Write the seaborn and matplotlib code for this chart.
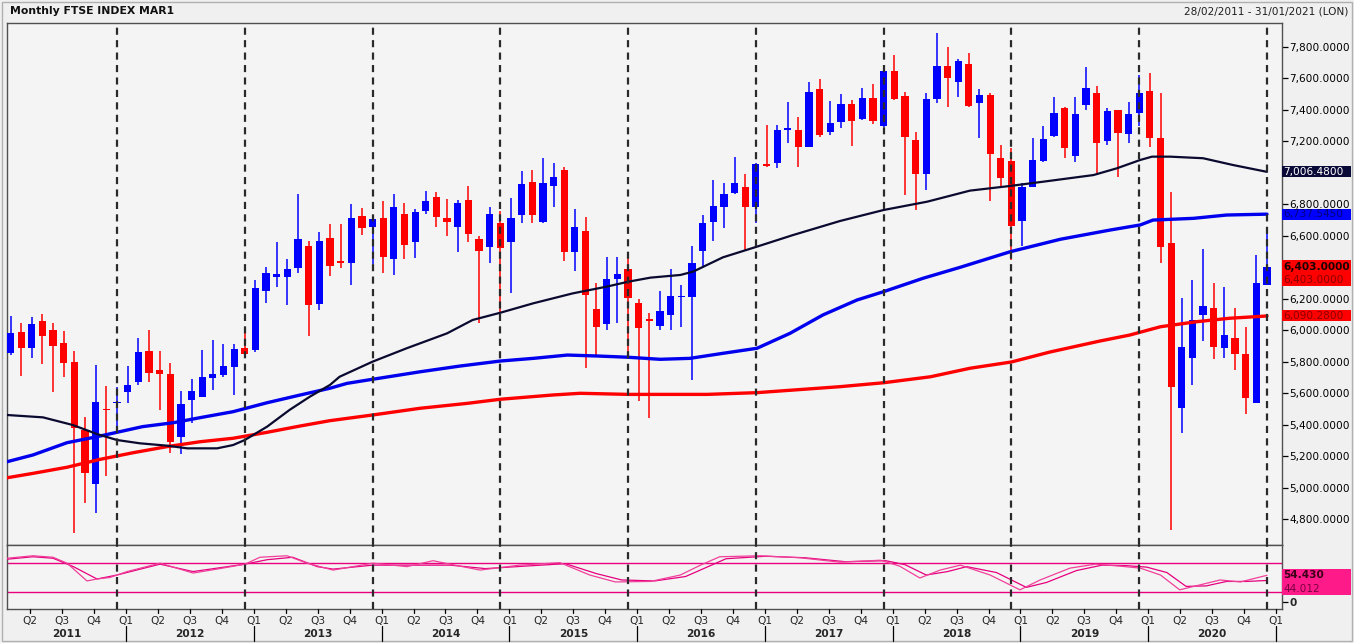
import numpy as np
import pandas as pd
import matplotlib
matplotlib.use("Agg")
import matplotlib.pyplot as plt
import matplotlib.transforms as mtransforms
from matplotlib.patches import Rectangle
import seaborn as sns

# ---------------- data (monthly bars, Mar 2011 .. Jan 2021) ----------------
opens = [5853, 5990, 5889, 6058, 6000, 5921, 5795, 5365, 5020, 5502,
         5537, 5608, 5670, 5866, 5747, 5720, 5323, 5556, 5577, 5698,
         5716, 5768, 5885, 5872, 6251, 6336, 6340, 6394, 6535, 6167,
         6584, 6440, 6429, 6726, 6654, 6711, 6451, 6739, 6560, 6760,
         6844, 6711, 6654, 6827, 6580, 6527, 6680, 6563, 6732, 6940,
         6690, 6916, 7018, 6499, 6631, 6133, 6037, 6323, 6387, 6175,
         6072, 6025, 6095, 6208, 6214, 6505, 6690, 6785, 6870, 6908,
         6781, 7054, 7065, 7272, 7272, 7166, 7531, 7262, 7321, 7436,
         7342, 7474, 7298, 7648, 7489, 7209, 6993, 7470, 7679, 7576,
         7692, 7442, 7495, 7097, 7075, 6696, 6912, 7077, 7234, 7410,
         7109, 7431, 7510, 7205, 7400, 7247, 7378, 7520, 7220, 6556,
         5504, 5825, 6095, 6139, 5885, 5952, 5849, 5535, 6288]
highs = [6090, 6044, 6086, 6103, 6044, 5997, 5870, 5448, 5776, 5643,
         5641, 5772, 5949, 6004, 5868, 5790, 5615, 5688, 5874, 5938,
         5912, 5912, 5984, 6319, 6400, 6562, 6453, 6866, 6567, 6626,
         6673, 6673, 6800, 6775, 6720, 6821, 6866, 6810, 6768, 6885,
         6876, 6832, 6827, 6916, 6600, 6785, 6757, 6838, 7014, 7018,
         7093, 7065, 7035, 6768, 6721, 6298, 6467, 6467, 6457, 6197,
         6110, 6252, 6392, 6287, 6535, 6733, 6955, 6934, 7103, 6993,
         7060, 7304, 7304, 7452, 7353, 7580, 7597, 7457, 7501, 7463,
         7537, 7565, 7650, 7750, 7516, 7262, 7506, 7887, 7802, 7722,
         7760, 7531, 7510, 7177, 7156, 6934, 7224, 7298, 7480, 7421,
         7484, 7675, 7552, 7410, 7400, 7448, 7625, 7633, 7506, 6880,
         6204, 6319, 6514, 6302, 6277, 6140, 6022, 6476, 6632]
lows = [5840, 5710, 5821, 5782, 5609, 5700, 4710, 4904, 4840, 5075,
        5345, 5539, 5652, 5672, 5493, 5219, 5213, 5413, 5574, 5620,
        5701, 5588, 5834, 5863, 6175, 6276, 6160, 6364, 5961, 6128,
        6343, 6397, 6287, 6605, 6420, 6364, 6350, 6451, 6457, 6739,
        6658, 6601, 6495, 6563, 6048, 6425, 6118, 6238, 6679, 6679,
        6683, 6781, 6441, 6378, 5758, 5842, 6000, 6044, 5864, 5550,
        5440, 6000, 6000, 6019, 5684, 6411, 6569, 6648, 6866, 6505,
        6681, 7040, 7029, 7192, 7035, 7162, 7230, 7241, 7283, 7171,
        7336, 7311, 7290, 7463, 6860, 6764, 6891, 7446, 7420, 7480,
        7417, 7224, 6823, 6912, 6446, 6535, 6908, 7071, 7226, 7097,
        7071, 7400, 6993, 7177, 6976, 7188, 7300, 7166, 6429, 4730,
        5345, 5652, 5930, 5815, 5821, 5747, 5465, 5535, 6288]
closes = [5980, 5889, 6040, 5965, 5902, 5790, 5376, 5094, 5545, 5492,
          5545, 5652, 5861, 5730, 5720, 5292, 5531, 5613, 5704, 5722,
          5773, 5881, 5849, 6266, 6362, 6355, 6389, 6578, 6160, 6567,
          6408, 6429, 6711, 6652, 6707, 6463, 6781, 6542, 6749, 6823,
          6718, 6686, 6810, 6610, 6506, 6739, 6524, 6711, 6929, 6732,
          6934, 6972, 6499, 6658, 6224, 6022, 6323, 6355, 6203, 6012,
          6061, 6121, 6216, 6220, 6425, 6680, 6790, 6866, 6934, 6785,
          7056, 7044, 7272, 7283, 7166, 7512, 7241, 7315, 7436, 7332,
          7474, 7332, 7648, 7470, 7230, 6993, 7470, 7679, 7605, 7711,
          7425, 7495, 7118, 6970, 6664, 6912, 7082, 7213, 7379, 7156,
          7372, 7537, 7188, 7393, 7251, 7374, 7510, 7220, 6531, 5637,
          5896, 6065, 6154, 5891, 5970, 5847, 5567, 6302, 6403]
first_bar = "2011-03"

# moving averages (bar position, value)
ma_black_pos = [-0.33, 3.05, 5.87, 8.12, 10.0, 12.16, 14.7, 16.6, 19.4, 20.9, 22.0, 24.1,
                26.2, 28.1, 30.0, 30.9, 34.0, 37.2, 41.0, 43.4, 46.0, 49.1, 52.8, 56.0,
                58.0, 60.1, 62.9, 64.1, 66.9, 70.1, 73.5, 77.9, 82.0, 86.1, 90.1, 93.9,
                97.0, 101.7, 103.9, 106.1, 107.2, 108.9, 112.0, 114.8, 118.0]
ma_black_val = [5461, 5446, 5397, 5340, 5302, 5281, 5266, 5249, 5249, 5270, 5302, 5387,
                5493, 5577, 5652, 5704, 5800, 5885, 5980, 6065, 6111, 6171, 6234, 6277,
                6308, 6334, 6351, 6372, 6463, 6531, 6605, 6694, 6764, 6817, 6887, 6917,
                6944, 6986, 7029, 7082, 7103, 7103, 7093, 7050, 7006.48]
ma_blue_pos = [-0.33, 2.11, 5.31, 8.12, 10.0, 12.4, 15.3, 17.8, 20.9, 24.1, 27.2, 30.0,
               31.6, 34.0, 38.5, 42.2, 46.0, 49.1, 52.3, 55.1, 58.0, 61.0, 63.8, 66.9,
               70.1, 73.2, 76.3, 79.5, 82.0, 85.7, 89.2, 93.9, 98.6, 103.3, 106.1, 107.3,
               111.1, 114.2, 118.0]
ma_blue_val = [5164, 5207, 5285, 5323, 5351, 5387, 5412, 5444, 5482, 5539, 5588, 5631,
               5662, 5688, 5736, 5772, 5804, 5821, 5842, 5836, 5828, 5815, 5821, 5853,
               5885, 5980, 6097, 6192, 6245, 6330, 6400, 6499, 6578, 6637, 6669, 6700,
               6711, 6732, 6737.545]
ma_red_pos = [-0.33, 2.11, 5.31, 8.41, 11.5, 14.7, 17.8, 20.9, 24.1, 27.2, 30.0, 34.0,
              38.5, 42.9, 46.0, 50.9, 53.5, 58.0, 65.4, 70.1, 77.9, 82.0, 86.4, 90.1,
              94.0, 97.6, 102.3, 105.1, 108.0, 111.4, 114.5, 118.0]
ma_red_val = [5062, 5090, 5129, 5179, 5221, 5260, 5291, 5313, 5351, 5391, 5425, 5461,
              5504, 5535, 5561, 5588, 5599, 5592, 5592, 5603, 5641, 5666, 5704, 5758,
              5798, 5861, 5931, 5969, 6022, 6054, 6076, 6090.28]

# oscillator (two lines)
osc_fast_pos = [-0.33, 2.11, 3.99, 5.31, 7.18, 8.12, 9.34, 10.94, 14.04, 17.14, 19.39,
                22.02, 23.43, 25.97, 27.85, 30.29, 34.04, 37.23, 39.68, 41.27, 44.1, 47.8,
                51.6, 54.4, 56.8, 60.1, 62.9, 64.8, 66.6, 70.4, 74.1, 77.9, 81.7, 83.5,
                85.4, 87.3, 89.2, 92.0, 94.8, 96.7, 99.5, 101.9, 104.2, 106.1, 108.0,
                109.8, 111.7, 113.6, 115.5, 118.0]
osc_fast_val = [89, 94, 91, 79, 43, 47, 50, 62, 79, 59, 67, 77, 91, 94, 79, 65, 79, 72, 84,
                77, 65, 75, 80, 55, 41, 42, 55, 75, 92, 94, 90, 81, 85, 73, 49, 65, 75, 55,
                25, 45, 69, 77, 73, 69, 55, 25, 35, 45, 41, 54.43]
osc_slow_pos = [-0.33, 2.11, 3.99, 5.9, 8.12, 10.0, 14.04, 17.14, 22.02, 24.1, 26.5, 28.8,
                30.3, 34.0, 41.3, 44.6, 48.3, 52.1, 55.0, 57.4, 60.5, 63.4, 65.3, 67.2,
                70.9, 74.6, 78.4, 82.2, 84.0, 86.0, 88.0, 89.8, 92.6, 95.4, 97.3, 100.1,
                102.5, 104.8, 106.7, 108.6, 110.4, 112.3, 114.2, 116.1, 118.0]
osc_slow_val = [87, 92, 89, 72, 47, 55, 77, 62, 77, 86, 91, 72, 67, 75, 75, 68, 73, 78, 58,
                45, 43, 52, 70, 88, 93, 90, 82, 84, 76, 55, 62, 72, 60, 30, 40, 64, 75, 74,
                71, 60, 32, 33, 42, 42, 44.012]
osc_levels = [80, 20]

price_ticks = list(range(4800, 7801, 200))
quarter_names = ["Q1", "Q2", "Q3", "Q4"]
title_left = "Monthly FTSE INDEX MAR1"
title_right = "28/02/2011 - 31/01/2021 (LON)"

# ---------------- figure ----------------
sns.set_theme(style="white")
plt.rcParams["font.family"] = ["DejaVu Sans"]

W, H = 1354, 643
fig = plt.figure(figsize=(W / 100, H / 100), dpi=100)
fig.patch.set_facecolor("#f0f0f0")


def rect(x0, y0, x1, y1):
    return [x0 / W, 1 - y1 / H, (x1 - x0) / W, (y1 - y0) / H]


ax = fig.add_axes(rect(7, 22.5, 1282, 545))
axi = fig.add_axes(rect(7, 545, 1282, 609))

n = len(opens)
dates = pd.period_range(first_bar, periods=n, freq="M")
df = pd.DataFrame({"pos": np.arange(n), "open": opens, "high": highs,
                   "low": lows, "close": closes, "month": dates.month, "year": dates.year})
df["up"] = df["close"] >= df["open"]
df["color"] = np.where(df["up"], "#0000ff", "#ff0000")

XL = (-0.33, 119.41)
for a in (ax, axi):
    a.set_facecolor("#f4f4f4")
    a.set_xlim(*XL)
    for s in a.spines.values():
        s.set_color("#505050")
        s.set_linewidth(1.0)

ax.set_ylim(4634.7, 7955.7)
axi.set_ylim(-13.8, 115.8)

# candles
ax.vlines(df["pos"], df["low"], df["high"], colors=df["color"], linewidth=1.1, zorder=2)
body_lo = np.minimum(df["open"], df["close"])
body_h = np.maximum(np.abs(df["close"] - df["open"]), 9)
ax.bar(df["pos"], body_h, bottom=body_lo, width=0.68, color=df["color"],
       linewidth=0, zorder=3)

# moving averages
sns.lineplot(x=ma_red_pos, y=ma_red_val, ax=ax, color="#ff0000", linewidth=2.4,
             sort=False, estimator=None, zorder=4)
sns.lineplot(x=ma_blue_pos, y=ma_blue_val, ax=ax, color="#0000ee", linewidth=2.4,
             sort=False, estimator=None, zorder=4)
sns.lineplot(x=ma_black_pos, y=ma_black_val, ax=ax, color="#0a0a30", linewidth=1.6,
             sort=False, estimator=None, zorder=4)

# oscillator
for lv in osc_levels:
    axi.axhline(lv, color="#e8007e", linewidth=1.0, zorder=2)
sns.lineplot(x=osc_slow_pos, y=osc_slow_val, ax=axi, color="#e6007e", linewidth=0.9,
             sort=False, estimator=None, zorder=3)
sns.lineplot(x=osc_fast_pos, y=osc_fast_val, ax=axi, color="#f0409a", linewidth=0.9,
             sort=False, estimator=None, zorder=3)

# January separators
jan_pos = df.loc[df["month"] == 1, "pos"].tolist()
for a in (ax, axi):
    for p in jan_pos:
        a.axvline(p, color="#2a2a2a", linewidth=1.6, dashes=(3.2, 2.4), zorder=5)


def px_per_data(a):
    h = a.get_position().height * H
    lo, hi = a.get_ylim()
    return (hi - lo) / h


# value tags on the right axis: (axes, value, face, lines, up_px, down_px)
tags = [
    (ax, ma_black_val[-1], "#0a0a38", [(f"{ma_black_val[-1]:,.4f}", "#ffffff", "normal")], 5.5, 5.5),
    (ax, ma_blue_val[-1], "#0000ff", [(f"{ma_blue_val[-1]:,.4f}", "#00007a", "normal")], 5.5, 5.5),
    (ax, closes[-1], "#ff0000", [(f"{closes[-1]:,.4f}", "#1a0000", "bold"),
                                 (f"{closes[-1]:,.4f}", "#8a0000", "normal")], 6.5, 19),
    (ax, ma_red_val[-1], "#ff0000", [(f"{ma_red_val[-1]:,.4f}", "#8a0000", "normal")], 5.5, 5.5),
    (axi, osc_fast_val[-1], "#ff1a8a", [(f"{osc_fast_val[-1]:.3f}", "#3a0018", "bold"),
                                        (f"{osc_slow_val[-1]:.3f}", "#7a0040", "normal")], 6, 19.5),
]

# axes ticks (labels hidden where a value tag sits on top of them)
d_main = px_per_data(ax)
covered = []
for a, v, face, lines, up, dn in tags:
    if a is ax:
        covered.append((v - (dn + 3.5) * d_main, v + (up + 3.5) * d_main))
for a in (ax, axi):
    a.set_xticks([])
    a.set_xlabel("")
    a.set_ylabel("")
    a.yaxis.tick_right()
ax.set_yticks(price_ticks)
ax.set_yticklabels([("" if any(lo < v < hi for lo, hi in covered) else f"{v:,.4f}")
                    for v in price_ticks])
ax.tick_params(axis="y", right=True, length=4, width=0.9, color="#000000",
               labelsize=7.6, pad=1.5, labelcolor="#000000")
axi.set_yticks([0])
axi.set_yticklabels(["0"], fontweight="bold")
axi.tick_params(axis="y", right=True, length=4, width=0.9, color="#000000",
                labelsize=7.6, pad=1.5)


def tag(a, value, face, lines, up_px, down_px):
    d = px_per_data(a)
    tr = mtransforms.blended_transform_factory(a.transAxes, a.transData)
    wax = 69 / (a.get_position().width * W)
    a.add_patch(Rectangle((1.0003, value - down_px * d), wax, (up_px + down_px) * d,
                          transform=tr, facecolor=face, edgecolor="none",
                          clip_on=False, zorder=20))
    for k, (txt, col, wt) in enumerate(lines):
        a.text(1.0 + 1.5 / (a.get_position().width * W), value - k * 13.5 * d, txt,
               transform=tr, color=col, fontsize=7.6, fontweight=wt, va="center",
               ha="left", clip_on=False, zorder=21)


for t in tags:
    tag(*t)

# bottom date labels
trq = mtransforms.blended_transform_factory(axi.transData, fig.transFigure)
qoff = 0.85
q_df = df[df["month"].isin([1, 4, 7, 10])]
for _, r in q_df.iterrows():
    xq = r["pos"] + qoff
    fig.text(xq, 1 - 621 / H, quarter_names[(r["month"] - 1) // 3], transform=trq,
             fontsize=7.6, ha="center", va="center")
    fig.add_artist(plt.Line2D([xq, xq], [1 - 609 / H, 1 - 613 / H], transform=trq,
                              color="#000000", linewidth=0.9))
years = sorted(df["year"].unique())
for y in years:
    js = df.loc[(df["year"] == y) & (df["month"] == 1), "pos"]
    left = js.iloc[0] + qoff if len(js) else XL[0]
    je = df.loc[(df["year"] == y + 1) & (df["month"] == 1), "pos"]
    if not len(je):
        continue
    right = je.iloc[0] + qoff
    fig.text((left + right) / 2, 1 - 634 / H, str(y), transform=trq, fontsize=7.6,
             fontweight="bold", ha="center", va="center")
for p in jan_pos:
    xq = p + qoff
    fig.add_artist(plt.Line2D([xq, xq], [1 - 626 / H, 1 - 641 / H], transform=trq,
                              color="#000000", linewidth=0.9))

# header
fig.text(10 / W, 1 - 11.5 / H, title_left, fontsize=7.8, fontweight="bold",
         ha="left", va="center", color="#101010")
fig.text(1348 / W, 1 - 11.5 / H, title_right, fontsize=7.6, ha="right", va="center",
         color="#202020")

# outer frame
fig.add_artist(Rectangle((2 / W, 2 / H), (W - 4) / W, (H - 4) / H, transform=fig.transFigure,
                         fill=False, edgecolor="#b0b0b0", linewidth=1.0))

fig.savefig("out.png", dpi=100, facecolor=fig.get_facecolor())
